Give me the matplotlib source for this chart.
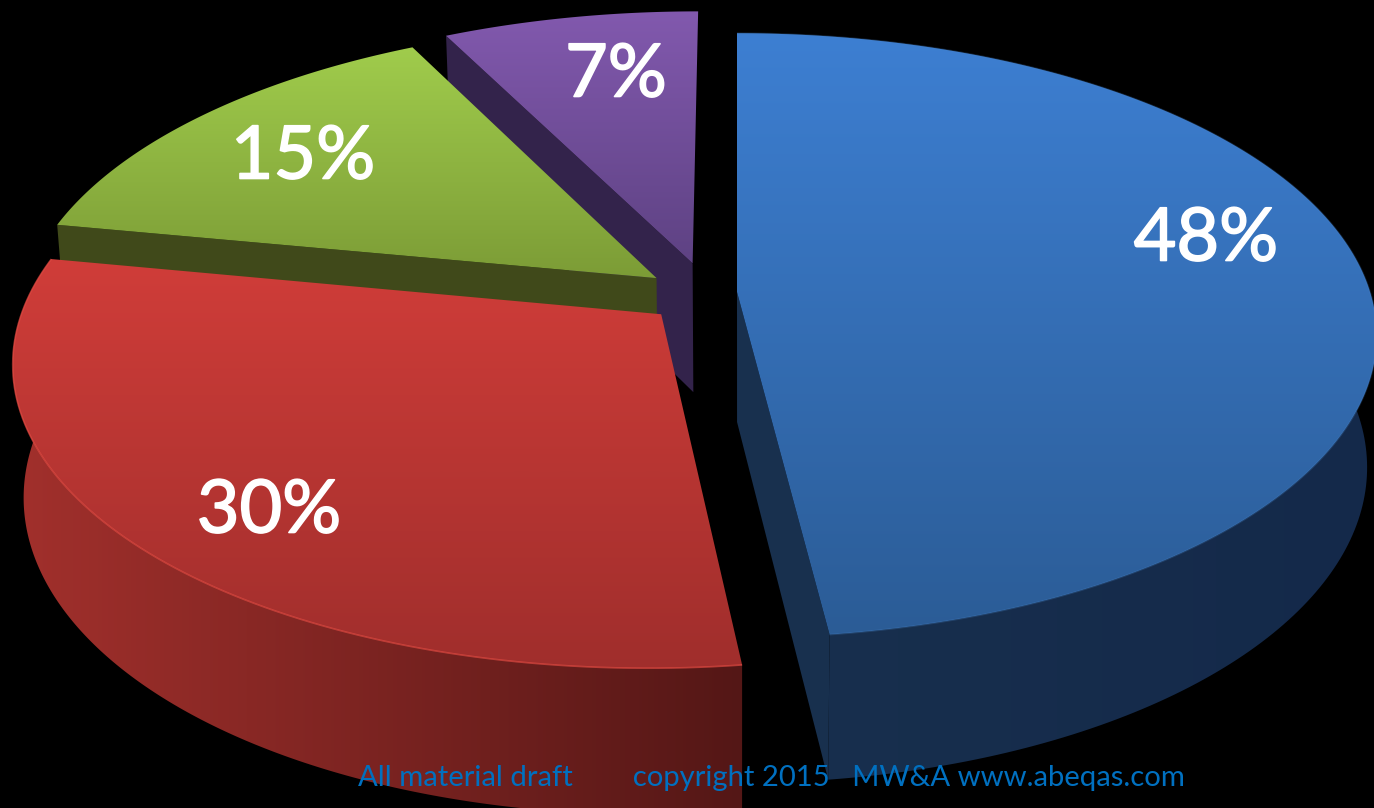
import numpy as np
import matplotlib
matplotlib.use("Agg")
import matplotlib.pyplot as plt
import matplotlib.patheffects as pe
from matplotlib.patches import Polygon

# slices clockwise from 12 o'clock
values = [48, 30, 14.5, 7.5]
labels = ["48%", "30%", "15%", "7%"]
footer = "All material draft        copyright 2015   MW&A www.abeqas.com"

# slice shift in the pie plane (pixels)
explode_x = [0, -75, -81, -45]
explode_y = [0, 22, -14, -29]

top_hi = ["#3D7FD2", "#D03D39", "#A0CC4C", "#8259AE"]
top_lo = ["#2B5C96", "#A02E2C", "#7C9C36", "#5E4283"]
side_hi = ["#18304E", "#A2302C", "#40491A", "#33234B"]
side_lo = ["#14294A", "#541716", "#40491A", "#33234B"]
rim = ["#4A86CC", "#E04A42", "#A0CC4C", "#8259AE"]
rim_alpha = [0.25, 0.7]

label_x = [1206, 269, 303, 616]
label_y = [240, 512, 158, 76]

CX, CY = 737, 292
RX, RY = 633, 296
PERSP = 0.144
DEPTH = 130


def project(x, y):
    s = 1 / (1 - PERSP * y / RY)
    return CX + x * s, CY + y * s


def lower(px, py):
    # same point on the underside of the pie
    return 740 + (px - 740) * 0.985, CY + DEPTH + (py - CY) * 1.044


def arc(a0, a1, dx, dy):
    t = np.radians(np.linspace(a0, a1, 200))
    return project(dx + RX * np.sin(t), dy - RY * np.cos(t))


def fill_gradient(ax, xs, ys, c1, c2, z, vertical=True):
    poly = Polygon(np.column_stack([xs, ys]), closed=True, fc="none", ec="none", zorder=z)
    ax.add_patch(poly)
    c1 = np.array(matplotlib.colors.to_rgb(c1))
    c2 = np.array(matplotlib.colors.to_rgb(c2))
    f = np.linspace(0, 1, 256)[:, None]
    img = c1 + (c2 - c1) * f
    img = img[:, None, :] if vertical else img[None, :, :]
    x0, x1, y0, y1 = min(xs), max(xs), min(ys), max(ys)
    im = ax.imshow(img, extent=[x0, x1, y1, y0], aspect="auto", interpolation="bilinear", zorder=z)
    im.set_clip_path(poly)


fig = plt.figure(figsize=(13.74, 8.08), dpi=100, facecolor="black")
ax = fig.add_axes([0, 0, 1, 1])
ax.set_facecolor("black")

edges = np.cumsum([0] + values) * 3.6

# back to front
z = 1
for i in [3, 2, 1, 0]:
    a0, a1 = edges[i], edges[i + 1]
    dx, dy = explode_x[i], explode_y[i]
    ax_, ay_ = project(dx, dy)
    tx, ty = arc(a0, a1, dx, dy)

    # wall along the rim, only on the two big front slices
    if i < 2:
        bx, by = lower(tx, ty)
        wall_x = np.r_[tx, bx[::-1]]
        wall_y = np.r_[ty, by[::-1]]
        fill_gradient(ax, wall_x, wall_y, side_hi[i], side_lo[i], z, vertical=False)
        z += 1

    # cut face
    if i == 0:
        fx, fy = tx[-1], ty[-1]
    else:
        fx, fy = tx[0], ty[0]
    if i != 1:
        lx, ly = lower(np.array([fx, ax_]), np.array([fy, ay_]))
        ax.add_patch(Polygon([(ax_, ay_), (fx, fy), (lx[0], ly[0]), (lx[1], ly[1])],
                             closed=True, fc=side_hi[i], ec="none", zorder=z))
        z += 1

    xs = np.r_[ax_, tx]
    ys = np.r_[ay_, ty]
    fill_gradient(ax, xs, ys, top_hi[i], top_lo[i], z)
    z += 1
    if i < 2:
        ax.plot(tx, ty, color=rim[i], lw=1.2, alpha=rim_alpha[i], solid_capstyle="butt", zorder=z)
        z += 1

for i in range(len(values)):
    t = ax.text(label_x[i], label_y[i], labels[i], color="white", fontsize=53,
                family="Lato", ha="center", va="center", zorder=z)
    t.set_path_effects([pe.withStroke(linewidth=1.2, foreground="white")])

ax.text(771, 778, footer, color="#0070C0", fontsize=21.1, family="Lato",
        ha="center", va="center", zorder=z)

ax.set_xlim(0, 1374)
ax.set_ylim(808, 0)
ax.axis("off")
fig.savefig("out.png", dpi=100, facecolor="black")
